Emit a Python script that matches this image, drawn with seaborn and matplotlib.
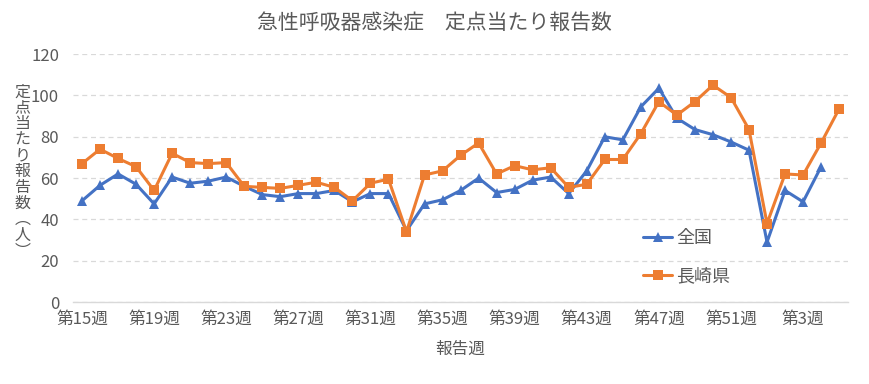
import numpy as np
import pandas as pd
import matplotlib
matplotlib.use("Agg")
import matplotlib.pyplot as plt
import seaborn as sns

# weekly data (week 15 .. week 5 of next year)
weeks = list(range(15, 53)) + [1, 2, 3, 4, 5]
week_labels = ["第%d週" % w for w in weeks]

zenkoku = [49, 56.5, 62, 57, 47.5, 60.5, 57.5, 58.5, 60.5, 56,
           52, 51, 52.5, 52.5, 54, 48.5, 52.5, 52.5, 34.5, 47.5,
           49.5, 54, 60, 53, 54.5, 59, 60.5, 52.5, 63.5, 80,
           78.5, 94.5, 103.5, 89, 83.5, 81, 77.5, 73.5, 29, 54,
           48.5, 65.5, np.nan]
nagasaki = [67, 74, 69.5, 65.5, 54, 72, 67.5, 67, 67.5, 56,
            55.5, 55, 56.5, 58, 55.5, 49, 57.5, 59.5, 34, 61.5,
            63.5, 71, 77, 62, 66, 64, 65, 55.5, 57, 69,
            69, 81.5, 97, 90.5, 97, 105, 99, 83.5, 38, 62,
            61.5, 77, 93.5]

series_names = ["全国", "長崎県"]
colors = {"全国": "#4472C4", "長崎県": "#ED7D31"}
markers = {"全国": "^", "長崎県": "s"}

df = pd.DataFrame({
  "pos": list(range(len(weeks))) * 2,
  "value": zenkoku + nagasaki,
  "series": [series_names[0]] * len(weeks) + [series_names[1]] * len(weeks),
}).dropna()

sns.set_theme(style="white")
plt.rcParams["font.family"] = ["Noto Sans CJK JP", "DejaVu Sans"]
text_color = "#595959"
grid_color = "#D9D9D9"

fig = plt.figure(figsize=(8.69, 3.84), dpi=100)
ax = fig.add_axes([0.084, 0.2135, 0.892, 0.6455])

sns.lineplot(data=df, x="pos", y="value", hue="series", style="series",
             hue_order=series_names, style_order=series_names,
             palette=colors, markers=markers, dashes=False,
             linewidth=2.2, markersize=7.5, markeredgewidth=0, ax=ax)

ax.set_xlim(-0.5, len(weeks) - 0.5)
ax.set_ylim(0, 120)
ax.set_yticks(range(0, 121, 20))
ax.set_xticks(range(0, len(weeks), 4))
ax.set_xticklabels(week_labels[::4])
ax.tick_params(axis="both", length=0, labelsize=12, colors=text_color)
ax.tick_params(axis="y", pad=10)
ax.tick_params(axis="x", pad=6)

ax.grid(axis="y", color=grid_color, linestyle=(0, (4, 3)), linewidth=0.9)
ax.set_axisbelow(True)
for side in ["top", "right", "left"]:
  ax.spines[side].set_visible(False)
ax.spines["bottom"].set_color(grid_color)
ax.spines["bottom"].set_linewidth(1.0)

ax.set_xlabel("報告週", fontsize=12, color=text_color, labelpad=10)
ax.set_ylabel("")
fig.text(0.026, 0.553, "\n".join("定点当たり報告数︵人︶"), fontsize=11.5,
         color=text_color, ha="center", va="center", linespacing=0.92)
fig.text(0.5, 0.94, "急性呼吸器感染症　定点当たり報告数", fontsize=15,
         color=text_color, ha="center", va="center")

handles, labels = ax.get_legend_handles_labels()
ax.legend(handles, labels, loc="center left", bbox_to_anchor=(0.715, 0.18),
          frameon=False, fontsize=13, labelcolor=text_color,
          handlelength=1.6, handletextpad=0.2, labelspacing=1.1)

fig.savefig("out.png", dpi=100)
